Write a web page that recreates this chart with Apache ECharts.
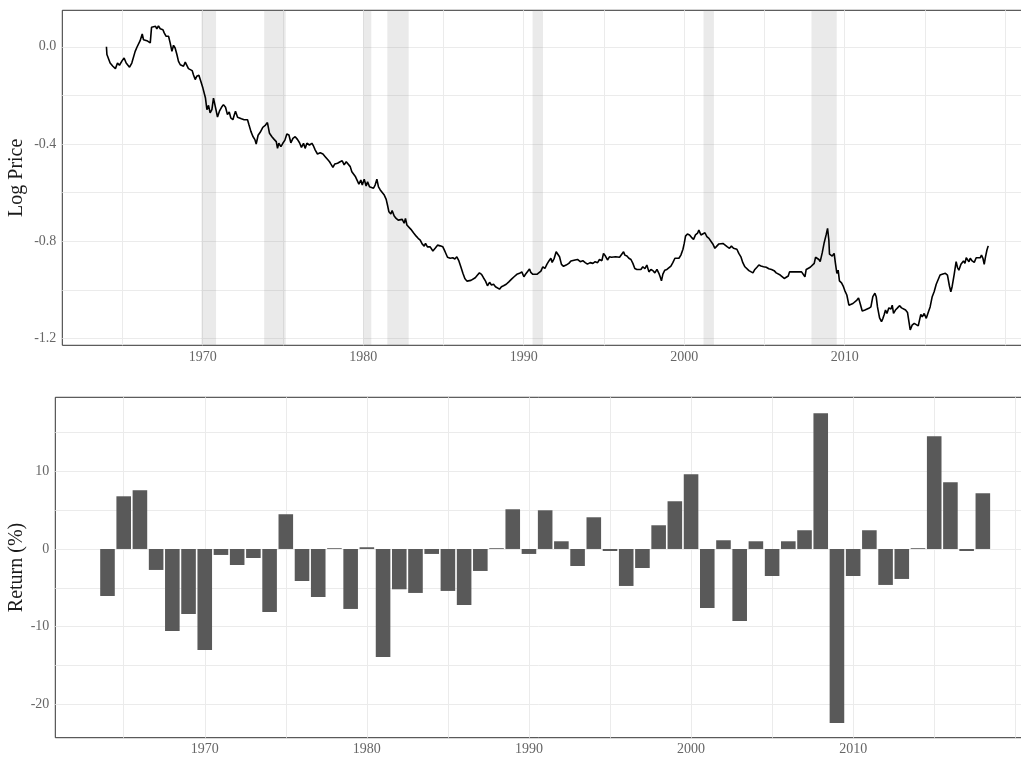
<!DOCTYPE html>
<html>
<head>
<meta charset="utf-8">
<script src="https://cdn.jsdelivr.net/npm/echarts@6/dist/echarts.min.js"></script>
<style>
  html, body { margin: 0; padding: 0; background: #ffffff; }
  #chart { width: 1021px; height: 759px; }
</style>
</head>
<body>
<div id="chart"></div>
<script>
// Monthly-ish log price path (time in fractional years)
const priceTime = [
  1964.00,1964.03,1964.13,1964.23,1964.40,1964.56,1964.69,1964.81,1964.98,1965.10,
  1965.23,1965.44,1965.58,1965.79,1965.90,1966.00,1966.10,1966.23,1966.31,1966.41,
  1966.52,1966.64,1966.73,1966.81,1966.93,1967.06,1967.14,1967.24,1967.35,1967.52,
  1967.60,1967.72,1967.87,1967.97,1968.08,1968.18,1968.28,1968.39,1968.49,1968.60,
  1968.72,1968.80,1968.91,1969.01,1969.11,1969.22,1969.34,1969.42,1969.53,1969.63,
  1969.76,1969.88,1970.01,1970.09,1970.17,1970.26,1970.36,1970.46,1970.57,1970.67,
  1970.78,1970.92,1971.04,1971.17,1971.29,1971.42,1971.54,1971.65,1971.75,1971.88,
  1971.96,1972.04,1972.17,1972.29,1972.41,1972.58,1972.79,1972.88,1973.00,1973.12,
  1973.25,1973.33,1973.45,1973.58,1973.75,1973.91,1974.03,1974.16,1974.31,1974.45,
  1974.58,1974.66,1974.74,1974.87,1974.99,1975.12,1975.24,1975.37,1975.49,1975.62,
  1975.76,1975.90,1976.03,1976.15,1976.28,1976.38,1976.49,1976.65,1976.80,1976.90,
  1977.01,1977.15,1977.32,1977.49,1977.63,1977.77,1977.90,1977.98,1978.11,1978.23,
  1978.40,1978.56,1978.69,1978.81,1978.94,1979.06,1979.19,1979.29,1979.39,1979.52,
  1979.64,1979.73,1979.85,1979.94,1980.06,1980.18,1980.27,1980.39,1980.51,1980.64,
  1980.74,1980.85,1980.95,1981.06,1981.18,1981.31,1981.43,1981.51,1981.60,1981.72,
  1981.80,1981.93,1982.05,1982.18,1982.30,1982.43,1982.55,1982.63,1982.72,1982.84,
  1982.97,1983.13,1983.30,1983.42,1983.55,1983.67,1983.80,1983.88,1984.00,1984.17,
  1984.34,1984.48,1984.63,1984.79,1984.96,1985.10,1985.25,1985.42,1985.58,1985.71,
  1985.83,1985.96,1986.08,1986.21,1986.33,1986.46,1986.58,1986.71,1986.83,1986.98,
  1987.12,1987.24,1987.37,1987.49,1987.62,1987.74,1987.87,1987.99,1988.12,1988.24,
  1988.36,1988.49,1988.61,1988.74,1988.91,1989.07,1989.24,1989.40,1989.57,1989.74,
  1989.88,1990.01,1990.11,1990.23,1990.36,1990.44,1990.57,1990.69,1990.82,1990.94,
  1991.07,1991.19,1991.32,1991.44,1991.57,1991.69,1991.77,1991.90,1992.02,1992.10,
  1992.23,1992.35,1992.48,1992.64,1992.81,1992.94,1993.06,1993.20,1993.35,1993.52,
  1993.68,1993.83,1993.97,1994.14,1994.31,1994.45,1994.60,1994.72,1994.87,1994.97,
  1995.09,1995.22,1995.34,1995.47,1995.59,1995.72,1995.84,1995.97,1996.09,1996.22,
  1996.30,1996.43,1996.55,1996.68,1996.80,1996.92,1997.05,1997.17,1997.30,1997.42,
  1997.55,1997.67,1997.80,1997.92,1998.05,1998.17,1998.30,1998.42,1998.50,1998.58,
  1998.67,1998.79,1998.92,1999.04,1999.17,1999.29,1999.42,1999.54,1999.67,1999.79,
  1999.92,2000.00,2000.08,2000.20,2000.33,2000.45,2000.58,2000.70,2000.83,2000.91,
  2001.04,2001.16,2001.29,2001.41,2001.54,2001.62,2001.78,2001.91,2002.03,2002.16,
  2002.28,2002.41,2002.55,2002.69,2002.82,2002.94,2003.07,2003.19,2003.28,2003.40,
  2003.53,2003.65,2003.78,2003.90,2004.03,2004.15,2004.28,2004.40,2004.53,2004.65,
  2004.78,2004.94,2005.11,2005.27,2005.44,2005.60,2005.73,2005.85,2005.98,2006.10,
  2006.23,2006.35,2006.48,2006.56,2006.68,2006.81,2006.93,2007.06,2007.18,2007.31,
  2007.43,2007.52,2007.60,2007.72,2007.85,2007.97,2008.10,2008.18,2008.26,2008.39,
  2008.47,2008.60,2008.72,2008.84,2008.93,2009.01,2009.05,2009.14,2009.22,2009.34,
  2009.42,2009.51,2009.59,2009.67,2009.80,2009.92,2010.01,2010.13,2010.26,2010.38,
  2010.51,2010.63,2010.76,2010.86,2010.96,2011.09,2011.26,2011.38,2011.50,2011.63,
  2011.75,2011.88,2011.96,2012.04,2012.17,2012.29,2012.38,2012.46,2012.54,2012.63,
  2012.75,2012.88,2012.96,2013.04,2013.16,2013.29,2013.41,2013.54,2013.66,2013.79,
  2013.91,2014.00,2014.08,2014.20,2014.33,2014.45,2014.58,2014.66,2014.74,2014.83,
  2014.95,2015.08,2015.20,2015.32,2015.45,2015.57,2015.70,2015.82,2015.94,2016.07,
  2016.15,2016.27,2016.40,2016.52,2016.61,2016.69,2016.82,2016.94,2017.03,2017.11,
  2017.24,2017.32,2017.40,2017.49,2017.57,2017.65,2017.74,2017.82,2017.94,2018.07,
  2018.19,2018.31,2018.44,2018.52,2018.61,2018.69,2018.77,2018.86,2018.94
];
const logPrice = [
  0.000,-0.032,-0.039,-0.067,-0.080,-0.090,-0.067,-0.076,-0.057,-0.046,
  -0.067,-0.084,-0.067,-0.019,-0.002,0.002,0.025,0.053,0.029,0.036,
  0.025,0.028,0.016,0.080,0.077,0.084,0.074,0.086,0.074,0.070,
  0.057,0.043,0.043,0.016,-0.019,0.006,-0.005,-0.032,-0.060,-0.074,
  -0.071,-0.080,-0.063,-0.060,-0.090,-0.094,-0.098,-0.115,-0.135,-0.121,
  -0.117,-0.142,-0.170,-0.170,-0.211,-0.259,-0.241,-0.272,-0.259,-0.211,
  -0.245,-0.289,-0.265,-0.249,-0.238,-0.249,-0.279,-0.268,-0.293,-0.300,
  -0.282,-0.265,-0.290,-0.286,-0.296,-0.300,-0.300,-0.321,-0.348,-0.368,
  -0.382,-0.400,-0.364,-0.352,-0.331,-0.322,-0.312,-0.356,-0.370,-0.381,
  -0.390,-0.418,-0.397,-0.411,-0.397,-0.384,-0.359,-0.363,-0.395,-0.377,
  -0.370,-0.381,-0.395,-0.414,-0.397,-0.418,-0.397,-0.404,-0.397,-0.408,
  -0.425,-0.441,-0.436,-0.441,-0.452,-0.463,-0.473,-0.482,-0.496,-0.482,
  -0.479,-0.473,-0.469,-0.486,-0.473,-0.473,-0.493,-0.514,-0.518,-0.535,
  -0.541,-0.565,-0.548,-0.569,-0.545,-0.573,-0.555,-0.576,-0.569,-0.582,
  -0.569,-0.545,-0.576,-0.589,-0.596,-0.610,-0.628,-0.651,-0.679,-0.688,
  -0.674,-0.696,-0.706,-0.713,-0.720,-0.710,-0.726,-0.706,-0.733,-0.729,
  -0.751,-0.765,-0.779,-0.788,-0.795,-0.811,-0.820,-0.809,-0.823,-0.823,
  -0.840,-0.829,-0.816,-0.819,-0.823,-0.843,-0.866,-0.870,-0.868,-0.873,
  -0.864,-0.881,-0.905,-0.932,-0.953,-0.964,-0.956,-0.961,-0.953,-0.950,
  -0.939,-0.930,-0.936,-0.950,-0.964,-0.983,-0.969,-0.980,-0.977,-0.987,
  -0.991,-0.997,-0.987,-0.983,-0.977,-0.967,-0.956,-0.946,-0.936,-0.932,
  -0.926,-0.946,-0.936,-0.942,-0.914,-0.928,-0.936,-0.928,-0.936,-0.928,
  -0.923,-0.905,-0.912,-0.895,-0.881,-0.870,-0.887,-0.870,-0.843,-0.836,
  -0.864,-0.895,-0.903,-0.898,-0.891,-0.881,-0.884,-0.877,-0.875,-0.884,
  -0.880,-0.888,-0.894,-0.888,-0.891,-0.884,-0.888,-0.875,-0.880,-0.850,
  -0.861,-0.877,-0.864,-0.866,-0.866,-0.864,-0.869,-0.866,-0.870,-0.843,
  -0.857,-0.861,-0.870,-0.875,-0.891,-0.912,-0.916,-0.912,-0.916,-0.905,
  -0.913,-0.898,-0.926,-0.916,-0.921,-0.930,-0.916,-0.932,-0.946,-0.963,
  -0.935,-0.919,-0.916,-0.921,-0.902,-0.888,-0.870,-0.875,-0.870,-0.857,
  -0.833,-0.809,-0.779,-0.770,-0.774,-0.784,-0.792,-0.774,-0.767,-0.754,
  -0.774,-0.779,-0.765,-0.781,-0.788,-0.788,-0.811,-0.829,-0.820,-0.811,
  -0.816,-0.809,-0.816,-0.823,-0.829,-0.820,-0.829,-0.825,-0.833,-0.850,
  -0.864,-0.888,-0.905,-0.912,-0.921,-0.916,-0.930,-0.916,-0.907,-0.898,
  -0.902,-0.905,-0.907,-0.913,-0.916,-0.921,-0.930,-0.932,-0.939,-0.946,
  -0.953,-0.949,-0.943,-0.926,-0.930,-0.926,-0.930,-0.926,-0.930,-0.926,
  -0.932,-0.946,-0.916,-0.919,-0.907,-0.902,-0.891,-0.866,-0.864,-0.875,
  -0.884,-0.847,-0.806,-0.774,-0.747,-0.795,-0.853,-0.850,-0.861,-0.850,
  -0.891,-0.932,-0.919,-0.963,-0.971,-0.987,-1.004,-1.021,-1.063,-1.067,
  -1.056,-1.063,-1.042,-1.033,-1.056,-1.087,-1.083,-1.083,-1.076,-1.070,
  -1.028,-1.014,-1.028,-1.070,-1.115,-1.131,-1.117,-1.101,-1.083,-1.097,
  -1.074,-1.079,-1.063,-1.097,-1.083,-1.074,-1.065,-1.074,-1.079,-1.083,
  -1.093,-1.131,-1.165,-1.145,-1.138,-1.145,-1.148,-1.142,-1.101,-1.111,
  -1.097,-1.117,-1.093,-1.070,-1.028,-1.008,-0.977,-0.969,-0.939,-0.936,
  -0.942,-0.932,-0.939,-0.983,-1.008,-0.987,-0.936,-0.884,-0.909,-0.919,
  -0.895,-0.887,-0.881,-0.891,-0.868,-0.864,-0.884,-0.870,-0.881,-0.887,
  -0.868,-0.864,-0.868,-0.857,-0.870,-0.895,-0.864,-0.836,-0.819
];

// Recession periods (start, end) in fractional years
const recessionStart = [1969.92, 1973.83, 1980.00, 1981.50, 1990.55, 2001.20, 2007.93];
const recessionEnd   = [1970.83, 1975.17, 1980.50, 1982.83, 1991.20, 2001.85, 2009.50];

// Annual returns (%)
const returnYears = [
  1964,1965,1966,1967,1968,1969,1970,1971,1972,1973,
  1974,1975,1976,1977,1978,1979,1980,1981,1982,1983,
  1984,1985,1986,1987,1988,1989,1990,1991,1992,1993,
  1994,1995,1996,1997,1998,1999,2000,2001,2002,2003,
  2004,2005,2006,2007,2008,2009,2010,2011,2012,2013,
  2014,2015,2016,2017,2018
];
const returnPct = [
  -6.05,6.78,7.56,-2.70,-10.56,-8.37,-13.00,-0.77,-2.06,-1.16,
  -8.11,4.47,-4.12,-6.18,0.10,-7.72,0.22,-13.90,-5.19,-5.66,
  -0.64,-5.40,-7.21,-2.83,0.10,5.11,-0.64,4.98,0.99,-2.19,
  4.08,-0.26,-4.76,-2.45,3.05,6.14,9.62,-7.60,1.12,-9.27,
  0.99,-3.48,0.99,2.41,17.47,-22.40,-3.48,2.41,-4.63,-3.86,
  0.10,14.51,8.59,-0.26,7.17
];

// Axis breaks and labels
const yearGridTicks = [1965,1970,1975,1980,1985,1990,1995,2000,2005,2010,2015,2020];
const yearLabelTicks = [1970,1980,1990,2000,2010];
const priceGridTicks = [-1.2,-1.0,-0.8,-0.6,-0.4,-0.2,0.0];
const priceLabelTicks = [-1.2,-0.8,-0.4,0.0];
const returnGridTicks = [-20,-15,-10,-5,0,5,10,15];
const returnLabelTicks = [-20,-10,0,10];

const FONT = '"Liberation Serif", "DejaVu Serif", serif';
const TICK_COLOR = '#666666';
const GRID_COLOR = '#ebebeb';
const BORDER_COLOR = '#333333';
const BAR_WIDTH = 0.9;

const chart = echarts.init(document.getElementById('chart'), null, { renderer: 'canvas' });

const recessionAreas = recessionStart.map((s, i) => [{ xAxis: s }, { xAxis: recessionEnd[i] }]);

function xAxisFor(gridIndex, min, max) {
  return {
    type: 'value', gridIndex, min, max,
    axisLine: { show: false },
    axisTick: { show: false, customValues: yearGridTicks },
    axisLabel: {
      customValues: yearLabelTicks, color: TICK_COLOR, fontFamily: FONT, fontSize: 14,
      margin: 5, formatter: v => String(Math.round(v))
    },
    splitLine: { show: true, lineStyle: { color: GRID_COLOR, width: 1 } }
  };
}

function yAxisFor(gridIndex, min, max, gridTicks, labelTicks, fmt, name, nameGap) {
  return {
    type: 'value', gridIndex, min, max,
    name, nameLocation: 'middle', nameGap, nameRotate: 90, nameMoveOverlap: false,
    nameTextStyle: { color: '#1a1a1a', fontFamily: FONT, fontSize: 20 },
    axisLine: { show: false },
    axisTick: { show: false, customValues: gridTicks },
    axisLabel: {
      customValues: labelTicks, color: TICK_COLOR, fontFamily: FONT, fontSize: 14,
      margin: 6, formatter: fmt
    },
    splitLine: { show: true, lineStyle: { color: GRID_COLOR, width: 1 } }
  };
}

const option = {
  backgroundColor: '#ffffff',
  animation: false,
  grid: [
    { left: 62.3, top: 10.3, width: (2021.7 - 1961.25) * 16.05, height: 335,
      outerBoundsMode: 'none', containLabel: false,
      show: true, borderColor: BORDER_COLOR, borderWidth: 1, backgroundColor: 'transparent' },
    { left: 55.3, top: 397.3, width: (2021.2 - 1960.78) * 16.21, height: 340.4,
      outerBoundsMode: 'none', containLabel: false,
      show: true, borderColor: BORDER_COLOR, borderWidth: 1, backgroundColor: 'transparent' }
  ],
  xAxis: [
    xAxisFor(0, 1961.25, 2021.7),
    xAxisFor(1, 1960.78, 2021.2)
  ],
  yAxis: [
    yAxisFor(0, -1.228, 0.150, priceGridTicks, priceLabelTicks, v => v.toFixed(1), 'Log Price', 36),
    yAxisFor(1, -24.29, 19.52, returnGridTicks, returnLabelTicks, v => String(Math.round(v)), 'Return (%)', 29)
  ],
  series: [
    {
      type: 'line', xAxisIndex: 0, yAxisIndex: 0,
      data: priceTime.map((t, i) => [t, logPrice[i]]),
      showSymbol: false, symbol: 'none',
      lineStyle: { color: '#000000', width: 1.6 },
      markArea: {
        silent: true,
        itemStyle: { color: 'rgba(128,128,128,0.17)' },
        data: recessionAreas
      },
      z: 3
    },
    {
      type: 'custom', xAxisIndex: 1, yAxisIndex: 1,
      data: returnYears.map((y, i) => [y, returnPct[i]]),
      encode: { x: 0, y: 1 },
      renderItem: function (params, api) {
        const yr = api.value(0);
        const v = api.value(1);
        const a = api.coord([yr - BAR_WIDTH / 2, v]);
        const b = api.coord([yr + BAR_WIDTH / 2, 0]);
        return {
          type: 'rect',
          shape: {
            x: a[0], y: Math.min(a[1], b[1]),
            width: b[0] - a[0], height: Math.abs(b[1] - a[1])
          },
          style: { fill: '#595959' }
        };
      }
    }
  ]
};

chart.setOption(option);
</script>
</body>
</html>
